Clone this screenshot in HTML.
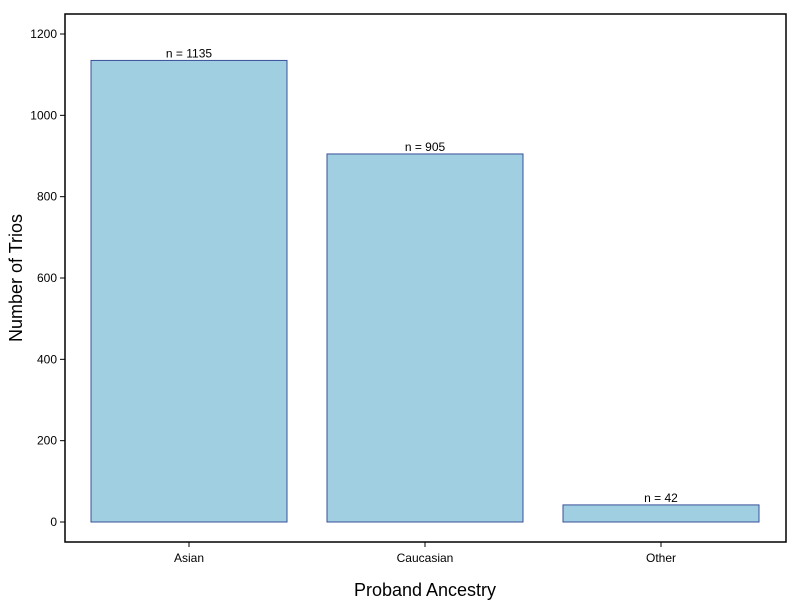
<!DOCTYPE html>
<html><head><meta charset="utf-8"><style>body{margin:0;background:#fff}svg{display:block;font-family:"Liberation Sans",Arial,sans-serif}</style></head>
<body>
<svg id="chart" width="800" height="600">
<rect x="65" y="14" width="721" height="528" fill="none" stroke="#000" stroke-width="1.5"/>
<g id="yaxis"></g>
<g id="xaxis"></g>
<g id="bars"></g>
<text x="425" y="596" font-size="18" text-anchor="middle">Proband Ancestry</text>
<text x="0" y="0" font-size="18" text-anchor="middle" transform="translate(22,278) rotate(-90)">Number of Trios</text>
</svg>
<script>
const categories = ["Asian", "Caucasian", "Other"];
const values = [1135, 905, 42];
const yTicks = [0, 200, 400, 600, 800, 1000, 1200];
const NS = "http://www.w3.org/2000/svg";
function y(v){ return 522 - v * (488/1200); }
function xc(i){ return 189 + i * 236; }
const barW = 196;
function mk(tag, attrs, parent){ const e = document.createElementNS(NS, tag); for (const k in attrs) e.setAttribute(k, attrs[k]); parent.appendChild(e); return e; }
const ya = document.getElementById('yaxis'), xa = document.getElementById('xaxis'), bg = document.getElementById('bars');
yTicks.forEach(t => {
  const l = mk('line', {x1:60, x2:65, y1:y(t), y2:y(t), stroke:'#000'}, ya);
  
  
  const tx = mk('text', {x:57, y:y(t)+4, 'font-size':12, 'text-anchor':'end'}, ya);
  tx.textContent = t;
  
  
});
categories.forEach((c, i) => {
  const l = mk('line', {x1:xc(i), x2:xc(i), y1:542, y2:547, stroke:'#000'}, xa);
  
  
  const tx = mk('text', {x:xc(i), y:562, 'font-size':12, 'text-anchor':'middle'}, xa);
  tx.textContent = c;
  
  
  const r = mk('rect', {x:xc(i)-barW/2, y:y(values[i]), width:barW, height:y(0)-y(values[i]), fill:'#a0cfe1', stroke:'#3a4f9a', 'stroke-width':1}, bg);
  
  
  const lb = mk('text', {x:xc(i), y:y(values[i])-3, 'font-size':12, 'text-anchor':'middle'}, bg);
  lb.textContent = 'n =  ' + values[i];
  
  
});
</script>
</body></html>
